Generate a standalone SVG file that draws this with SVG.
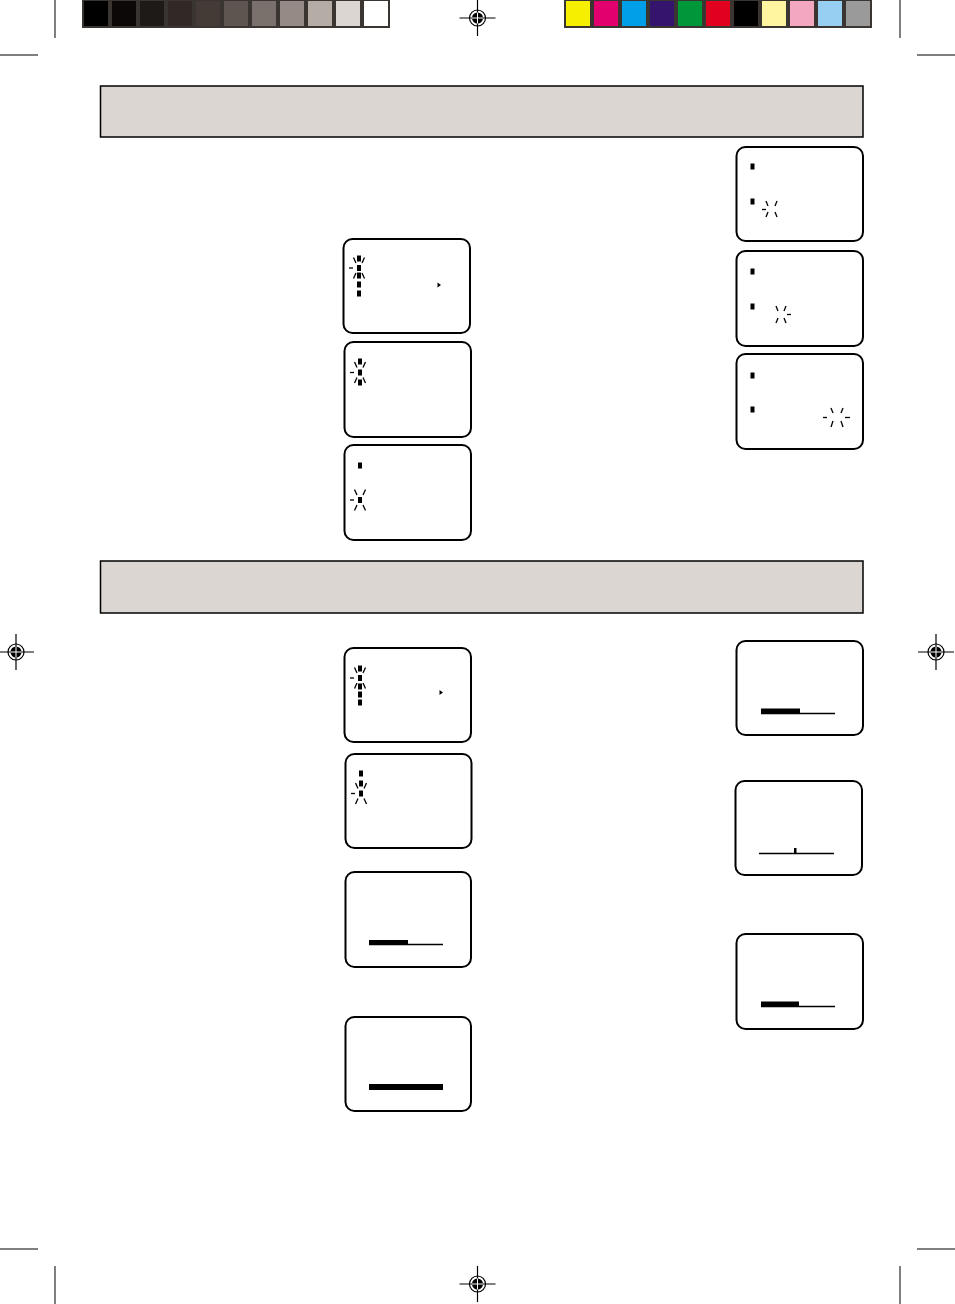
<svg xmlns="http://www.w3.org/2000/svg" xmlns:xlink="http://www.w3.org/1999/xlink" width="955" height="1304" viewBox="0 0 955 1304">
<style>
.scr{fill:#fff;stroke:#000;stroke-width:2}
.hdr{fill:#dbd6d1;stroke:#000;stroke-width:1.5}
.crop{stroke:#000;stroke-width:1}
.bl{stroke:#000;stroke-width:1.3;fill:none}
.ln{stroke:#000;stroke-width:1.5}
</style>
<defs>
<g id="reg">
<circle r="8" fill="#fff" stroke="#000" stroke-width="1.2"/>
<line x1="-18" y1="0" x2="18" y2="0" stroke="#000" stroke-width="1.2"/>
<line x1="0" y1="-18" x2="0" y2="18" stroke="#000" stroke-width="1.2"/>
<circle r="5.5" fill="#000"/>
<line x1="-5.5" y1="0" x2="5.5" y2="0" stroke="#fff" stroke-width="1"/>
<line x1="0" y1="-5.5" x2="0" y2="5.5" stroke="#fff" stroke-width="1"/>
</g>
<g id="blink" class="bl">
<line x1="-10" y1="0" x2="-6" y2="0"/>
<line x1="-5.5" y1="-10.5" x2="-3" y2="-5"/>
<line x1="5.5" y1="-10.5" x2="3" y2="-5"/>
<line x1="-3" y1="5" x2="-5.5" y2="10.5"/>
<line x1="3" y1="5" x2="5.5" y2="10.5"/>
</g>
<rect id="bar" x="-2" y="-3" width="4" height="6" fill="#000"/>
</defs>
<rect width="955" height="1304" fill="#fff"/>
<g id="colorbars">
<rect x="82" y="0" width="308" height="28" fill="#3b3532"/>
<rect x="84" y="1" width="24" height="25" fill="#000000"/>
<rect x="112" y="1" width="24" height="25" fill="#0d0808"/>
<rect x="140" y="1" width="24" height="25" fill="#1e1a18"/>
<rect x="168" y="1" width="24" height="25" fill="#322826"/>
<rect x="196" y="1" width="24" height="25" fill="#453b36"/>
<rect x="224" y="1" width="24" height="25" fill="#5e5550"/>
<rect x="252" y="1" width="24" height="25" fill="#7b716c"/>
<rect x="280" y="1" width="24" height="25" fill="#958a85"/>
<rect x="308" y="1" width="24" height="25" fill="#b5aca6"/>
<rect x="336" y="1" width="24" height="25" fill="#dbd6d1"/>
<rect x="364" y="1" width="24" height="25" fill="#ffffff"/>
<rect x="564" y="0" width="308" height="28" fill="#3b3532"/>
<rect x="566" y="1" width="24" height="25" fill="#f7ef00"/>
<rect x="594" y="1" width="24" height="25" fill="#e2006f"/>
<rect x="622" y="1" width="24" height="25" fill="#009fe8"/>
<rect x="650" y="1" width="24" height="25" fill="#35146e"/>
<rect x="678" y="1" width="24" height="25" fill="#00973b"/>
<rect x="706" y="1" width="24" height="25" fill="#e2001f"/>
<rect x="734" y="1" width="24" height="25" fill="#000000"/>
<rect x="762" y="1" width="24" height="25" fill="#fff5a0"/>
<rect x="790" y="1" width="24" height="25" fill="#f4a7c0"/>
<rect x="818" y="1" width="24" height="25" fill="#97cff2"/>
<rect x="846" y="1" width="24" height="25" fill="#9a9a9a"/>
</g>
<g id="marks">
<use xlink:href="#reg" x="477.5" y="18"/>
<use xlink:href="#reg" x="16" y="652"/>
<use xlink:href="#reg" x="936" y="652"/>
<use xlink:href="#reg" x="477.5" y="1284"/>
<line class="crop" x1="55" y1="0" x2="55" y2="38"/>
<line class="crop" x1="0" y1="55" x2="38" y2="55"/>
<line class="crop" x1="900" y1="0" x2="900" y2="38"/>
<line class="crop" x1="917" y1="55" x2="955" y2="55"/>
<line class="crop" x1="0" y1="1249" x2="38" y2="1249"/>
<line class="crop" x1="917" y1="1249" x2="955" y2="1249"/>
<line class="crop" x1="55" y1="1266" x2="55" y2="1304"/>
<line class="crop" x1="900" y1="1266" x2="900" y2="1304"/>
</g>
<g id="header1"><rect class="hdr" x="100.5" y="86" width="762.5" height="51"/></g>
<g id="header2"><rect class="hdr" x="100.5" y="561" width="762.5" height="52"/></g>

<g id="screen1">
<rect class="scr" x="343.5" y="239" width="126.5" height="94" rx="9"/>
<use xlink:href="#bar" x="359" y="258.5"/>
<use xlink:href="#bar" x="359" y="268"/>
<use xlink:href="#bar" x="359" y="275.5"/>
<use xlink:href="#bar" x="359" y="284.5"/>
<use xlink:href="#bar" x="359" y="293.5"/>
<use xlink:href="#blink" x="359" y="268"/>
<path d="M437.5,282.5 L441,285 L437.5,287.5 Z" fill="#000"/>
</g>
<g id="screen2">
<rect class="scr" x="344.5" y="342" width="126.5" height="95" rx="9"/>
<use xlink:href="#bar" x="360" y="361.5"/>
<use xlink:href="#bar" x="360" y="372.5"/>
<use xlink:href="#bar" x="360" y="382.5"/>
<use xlink:href="#blink" x="360" y="372.5"/>
</g>
<g id="screen3">
<rect class="scr" x="344.5" y="445" width="126.5" height="95" rx="9"/>
<use xlink:href="#bar" x="360" y="465.5"/>
<use xlink:href="#bar" x="360" y="500"/>
<use xlink:href="#blink" x="360" y="500"/>
</g>
<g id="screenA">
<rect class="scr" x="736.5" y="147" width="126.5" height="94" rx="9"/>
<use xlink:href="#bar" x="752.5" y="166.5"/>
<use xlink:href="#bar" x="752.5" y="201.5"/>
<g class="bl">
<line x1="762" y1="209.5" x2="766" y2="209.5"/>
<line x1="766" y1="201" x2="768" y2="206"/>
<line x1="777" y1="201" x2="775" y2="206"/>
<line x1="768" y1="212" x2="766" y2="217"/>
<line x1="775" y1="212" x2="777" y2="217"/>
</g>
</g>
<g id="screenB">
<rect class="scr" x="736.5" y="251" width="126.5" height="95" rx="9"/>
<use xlink:href="#bar" x="752.5" y="271.5"/>
<use xlink:href="#bar" x="752.5" y="306.5"/>
<g class="bl">
<line x1="787" y1="314.5" x2="791" y2="314.5"/>
<line x1="776" y1="306" x2="778" y2="311"/>
<line x1="786" y1="306" x2="784" y2="311"/>
<line x1="778" y1="318" x2="776" y2="323"/>
<line x1="784" y1="318" x2="786" y2="323"/>
</g>
</g>
<g id="screenC">
<rect class="scr" x="736.5" y="354" width="126.5" height="95" rx="9"/>
<use xlink:href="#bar" x="752.5" y="375.5"/>
<use xlink:href="#bar" x="752.5" y="409.5"/>
<g class="bl">
<line x1="823" y1="417.5" x2="827" y2="417.5"/>
<line x1="845" y1="417.5" x2="850" y2="417.5"/>
<line x1="831" y1="408" x2="833" y2="413"/>
<line x1="843" y1="408" x2="841" y2="413"/>
<line x1="833" y1="421" x2="831" y2="427"/>
<line x1="841" y1="421" x2="843" y2="427"/>
</g>
</g>

<g id="screen4">
<rect class="scr" x="344.5" y="648" width="126.5" height="94" rx="9"/>
<use xlink:href="#bar" x="360" y="668.5"/>
<use xlink:href="#bar" x="360" y="678"/>
<use xlink:href="#bar" x="360" y="686.5"/>
<use xlink:href="#bar" x="360" y="694.5"/>
<use xlink:href="#bar" x="360" y="702.5"/>
<use xlink:href="#blink" x="360" y="678"/>
<path d="M439.5,690 L443,692.5 L439.5,695 Z" fill="#000"/>
</g>
<g id="screen5">
<rect class="scr" x="345.5" y="754" width="126" height="94" rx="9"/>
<use xlink:href="#bar" x="361" y="773.5"/>
<use xlink:href="#bar" x="361" y="783.5"/>
<use xlink:href="#bar" x="361" y="793.5"/>
<use xlink:href="#blink" x="361" y="793.5"/>
</g>
<g id="screen6">
<rect class="scr" x="345.5" y="872" width="125.5" height="95" rx="9"/>
<line class="ln" x1="369" y1="944.5" x2="443" y2="944.5"/>
<rect x="369" y="940" width="39" height="5" fill="#000"/>
</g>
<g id="screen7">
<rect class="scr" x="345.5" y="1017" width="125.5" height="94" rx="9"/>
<rect x="369" y="1084" width="74" height="6" fill="#000"/>
</g>
<g id="screenD">
<rect class="scr" x="736.5" y="641" width="126.5" height="94" rx="9"/>
<line class="ln" x1="761" y1="713.5" x2="835" y2="713.5"/>
<rect x="761" y="708.5" width="39" height="5.5" fill="#000"/>
</g>
<g id="screenE">
<rect class="scr" x="735.5" y="781" width="126.5" height="94" rx="9"/>
<line class="ln" x1="759" y1="853.5" x2="834" y2="853.5"/>
<rect x="794" y="848" width="2.5" height="6" fill="#000"/>
</g>
<g id="screenF">
<rect class="scr" x="736.5" y="934" width="126.5" height="95" rx="9"/>
<line class="ln" x1="761" y1="1006.5" x2="835" y2="1006.5"/>
<rect x="761" y="1001.5" width="38" height="5.5" fill="#000"/>
</g>
</svg>
